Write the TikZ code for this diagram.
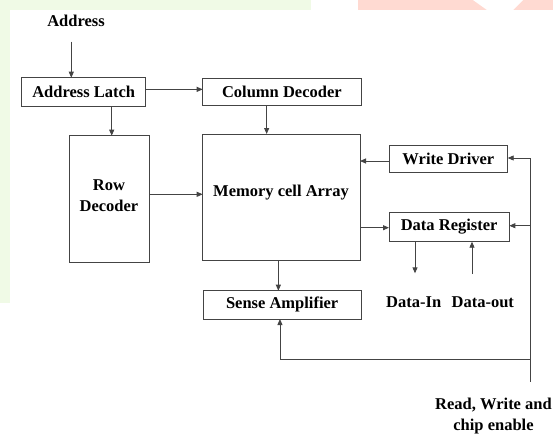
\documentclass[tikz,border=0pt]{standalone}
\usepackage{fontspec}
\setmainfont{Liberation Serif}
\usetikzlibrary{arrows.meta}

\definecolor{bandgreen}{HTML}{F0FAE6}
\definecolor{bandpink}{HTML}{FFDAD2}
\definecolor{wire}{HTML}{444444}

\tikzset{
  box/.style={draw=wire, line width=0.9pt, fill=white, inner sep=0pt, outer sep=0pt,
              font=\fontsize{16.5}{22}\selectfont\bfseries},
  lbl/.style={inner sep=0pt, font=\fontsize{16.5}{21}\selectfont\bfseries, align=center},
  wireline/.style={draw=wire, line width=0.9pt},
  arr/.style={wireline, -{Triangle[length=6pt,width=5pt]}},
}

\begin{document}
\begin{tikzpicture}[x=1pt,y=-1pt]
  \useasboundingbox (0,0) rectangle (553,437);
  \clip (0,0) rectangle (553,437);

  % coloured bands along the top and left edge
  \fill[bandgreen] (0,0) rectangle (311,10);
  \fill[bandgreen] (0,0) rectangle (9.5,303);
  \fill[bandpink] (358,0) rectangle (553,10);
  \fill[white] (473,0) -- (523,0) -- (513,10) -- (487,10) -- cycle;

  % blocks
  \node[lbl] (addr) at (76,21) {Address};
  \node[box, minimum width=124pt, minimum height=28.3pt] (latch) at (83.7,91.85) {Address Latch};
  \node[box, minimum width=158.3pt, minimum height=27.4pt] (coldec) at (281.85,92) {Column Decoder};
  \node[box, minimum width=80pt, minimum height=126.6pt] (row) at (109,199) {};
  \node[lbl] (rowtxt) at (109,195.5) {Row\\Decoder};
  \node[box, minimum width=157.3pt, minimum height=126.3pt] (mem) at (281.35,197.15) {};
  \node[lbl] (memtxt) at (281,192.5) {Memory cell Array};
  \node[box, minimum width=157.7pt, minimum height=28.3pt] (sense) at (282.15,304.85) {Sense Amplifier};
  \node[box, minimum width=118.7pt, minimum height=27pt] (wd) at (448.35,159.2) {Write Driver};
  \node[box, minimum width=120.3pt, minimum height=29.4pt] (dr) at (449.15,227) {Data Register};
  \node[lbl] (din) at (413.7,302) {Data-In};
  \node[lbl] (dout) at (482.8,302) {Data-out};
  \node[lbl] (rw) at (493.5,416) {Read, Write and\\chip enable};

  % free ends of the wires
  \coordinate (addrTail) at (71.3,41.7);
  \coordinate (dinTip) at (415,273.3);
  \coordinate (doutTail) at (472,274);
  \coordinate (ctlTop) at (530,158);
  \coordinate (ctlBot) at (530,381.7);
  \coordinate (ctlJoin) at (530,359.3);

  % connectors
  \draw[arr] (addrTail) -- (addrTail |- latch.north);
  \draw[arr] ([yshift=2.5pt]latch.east) -- ([yshift=2.5pt]latch.east -| coldec.west);
  \draw[arr] ([xshift=2.7pt]row.north |- latch.south) -- ([xshift=2.7pt]row.north);
  \draw[arr] ([xshift=-15.2pt]coldec.south) -- ([xshift=-15.2pt]coldec.south |- mem.north);
  \draw[arr] ([yshift=4.7pt]row.east) -- ([yshift=4.7pt]row.east -| mem.west);
  \draw[arr] ([xshift=-3pt]mem.south) -- ([xshift=-3pt]mem.south |- sense.north);
  \draw[arr] ([yshift=-1.8pt]wd.west) -- ([yshift=-1.8pt]wd.west -| mem.east);
  \draw[arr] ([yshift=-0.7pt]dr.west -| mem.east) -- ([yshift=-0.7pt]dr.west);
  \draw[arr] (dinTip |- dr.south) -- (dinTip);
  \draw[arr] (doutTail) -- (doutTail |- dr.south);

  % read / write / chip enable bus
  \draw[wireline] (ctlBot) -- (ctlTop);
  \draw[arr] (ctlTop) -- (ctlTop -| wd.east);
  \draw[arr] ([yshift=1.3pt]ctlTop |- dr.east) -- ([yshift=1.3pt]dr.east);
  \draw[arr] (ctlJoin) -| ([xshift=-2.2pt]sense.south);
\end{tikzpicture}
\end{document}
